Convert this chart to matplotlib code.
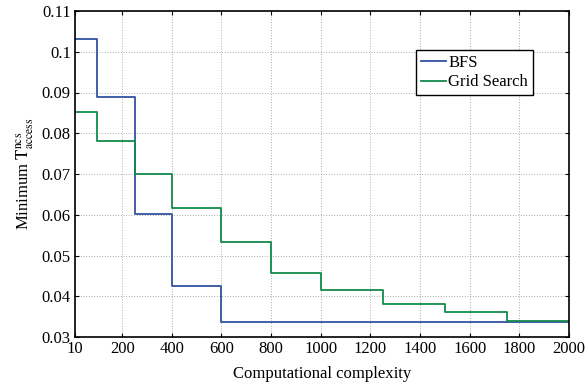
import numpy as np
import matplotlib
matplotlib.use('Agg')
import matplotlib.pyplot as plt

plt.rcParams['font.family'] = ['Liberation Serif', 'DejaVu Serif']
plt.rcParams['mathtext.fontset'] = 'stix'

# step edges (computational complexity) and the level held after each edge
bfs_x = [10, 100, 250, 400, 600, 2000]
bfs_y = [0.1031, 0.0890, 0.0601, 0.0425, 0.0338, 0.0338]

grid_x = [10, 100, 250, 400, 600, 800, 1000, 1250, 1500, 1750, 2000]
grid_y = [0.0851, 0.0781, 0.0699, 0.0616, 0.0532, 0.0457, 0.0415, 0.0380, 0.0361, 0.0340, 0.0340]

xticks = [10, 200, 400, 600, 800, 1000, 1200, 1400, 1600, 1800, 2000]

fig = plt.figure(figsize=(5.85, 3.86), dpi=100)
ax = fig.add_axes([75/585, 1 - 337/386, (569 - 75)/585, (337 - 11)/386])

ax.plot(bfs_x, bfs_y, drawstyle='steps-post', color='#3352a3', lw=1.3, label='BFS')
ax.plot(grid_x, grid_y, drawstyle='steps-post', color='#13894a', lw=1.3, label='Grid Search')

ax.set_xlim(10, 2000)
ax.set_ylim(0.03, 0.11)
ax.set_xticks(xticks)
ax.set_xticklabels([str(t) for t in xticks])
ax.set_yticks(np.arange(0.03, 0.1101, 0.01))
ax.set_yticklabels(['0.03', '0.04', '0.05', '0.06', '0.07', '0.08', '0.09', '0.1', '0.11'])
ax.tick_params(direction='in', length=3, labelsize=12, top=True, right=True, pad=3)
ax.grid(True, linestyle=(0, (1, 2.2)), color='#909090', lw=0.6)
for s in ax.spines.values():
    s.set_linewidth(1.2)

ax.set_xlabel('Computational complexity', fontsize=12, labelpad=6)
ax.set_ylabel(r'Minimum $\mathrm{T}^{\mathrm{ncs}}_{\mathrm{access}}$', fontsize=12, labelpad=4)

leg = ax.legend(loc='upper left', bbox_to_anchor=(0.69, 0.88), fancybox=False,
                edgecolor='black', framealpha=1, fontsize=12, handlelength=1.5,
                handletextpad=0.15, borderpad=0.3, labelspacing=0.2, borderaxespad=0)
leg.get_frame().set_linewidth(1.0)

fig.savefig('out.png', dpi=100)
